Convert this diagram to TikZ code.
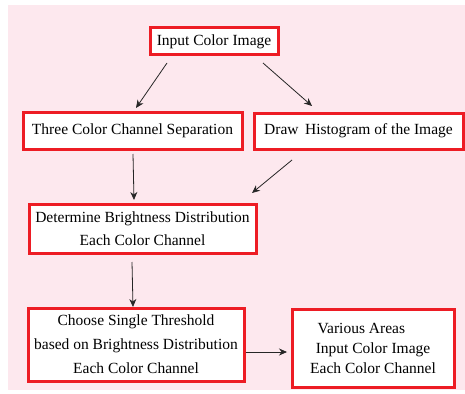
\documentclass[tikz,border=0pt]{standalone}
\usepackage{fontspec}
\setmainfont{Liberation Serif}
\usetikzlibrary{arrows.meta}
\definecolor{bgpink}{HTML}{FDE8EE}
\definecolor{boxred}{HTML}{ED1C24}
\begin{document}
\begin{tikzpicture}[x=1pt,y=-1pt,
  box/.style={draw=boxred, line width=3pt, fill=white, inner sep=0pt, align=center,
    font=\fontsize{15.5}{23}\selectfont},
  conn/.style={-{Stealth[length=8pt,width=7pt]}, line width=0.8pt, black!85}]
\useasboundingbox (0,0) rectangle (465,393);
\fill[bgpink] (8,5) rectangle (465,390);
\node[box, minimum width=128pt, minimum height=27pt] (in) at (214,41.5) {Input Color Image};
\node[box, minimum width=219pt, minimum height=37pt] (three) at (132.5,130.5) {Three Color Channel Separation};
\node[box, minimum width=209pt, minimum height=36pt] (hist) at (358.5,131) {Draw\, Histogram of the Image};
\node[box, minimum width=227pt, minimum height=49pt] (det) at (142.5,228.5) {Determine Brightness Distribution\\Each Color Channel};
\node[box, minimum width=216pt, minimum height=73pt, font=\fontsize{15.5}{24}\selectfont] (choose) at (136,344.5) {Choose Single Threshold\\based on Brightness Distribution\\Each Color Channel};
\node[box, minimum width=162pt, minimum height=78pt, font=\fontsize{15.5}{20}\selectfont] (var) at (373,348) {Various Areas\hspace*{1.5em}\\Input Color Image\\Each Color Channel};
\coordinate (a1s) at (167,63); \coordinate (a1e) at (136,108);
\coordinate (a2s) at (263,63); \coordinate (a2e) at (312,106);
\coordinate (a3s) at (133,154); \coordinate (a3e) at (134,200);
\coordinate (a4s) at (292,160); \coordinate (a4e) at (252,193);
\coordinate (a5s) at (132,262); \coordinate (a5e) at (133,307);
\coordinate (a6s) at (246,352); \coordinate (a6e) at (287,352);
\draw[conn] (a1s) -- (a1e);
\draw[conn] (a2s) -- (a2e);
\draw[conn] (a3s) -- (a3e);
\draw[conn] (a4s) -- (a4e);
\draw[conn] (a5s) -- (a5e);
\draw[conn] (a6s) -- (a6e);
\end{tikzpicture}
\end{document}
